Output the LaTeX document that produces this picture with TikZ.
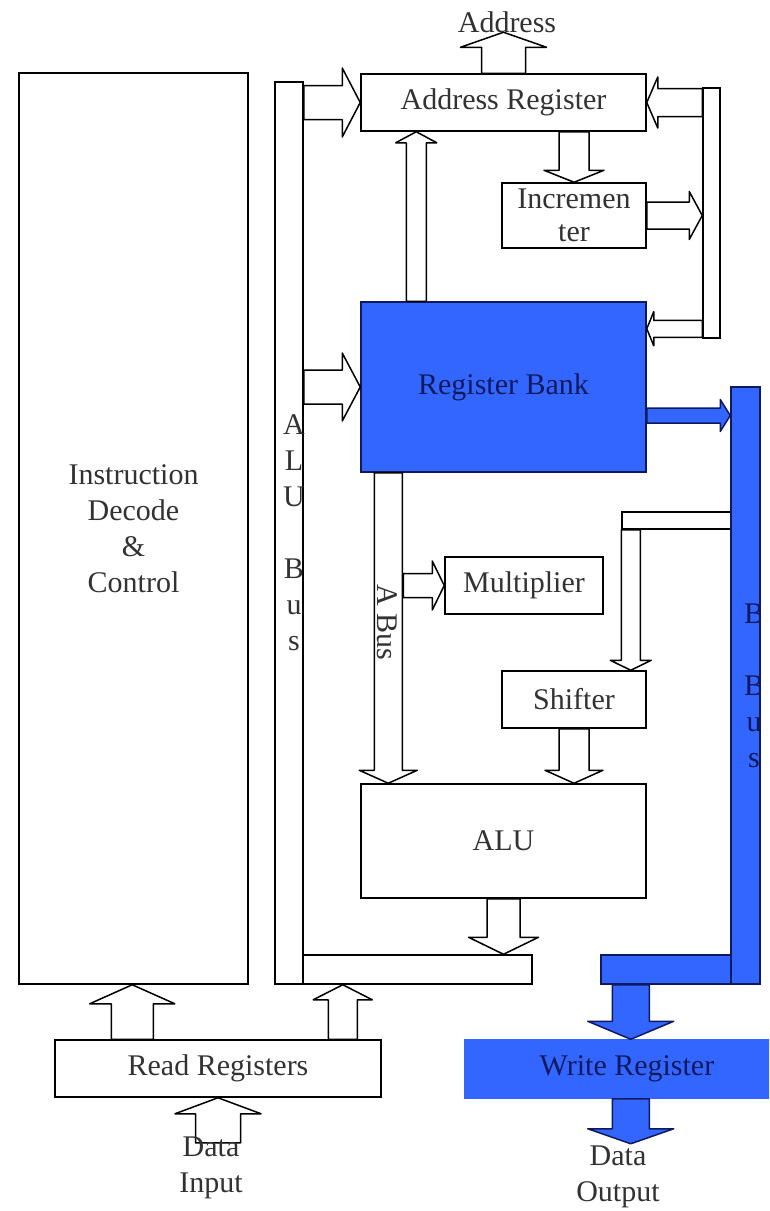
\documentclass[tikz,border=0pt]{standalone}
\usepackage{fontspec}
\setmainfont{Liberation Serif}
\usetikzlibrary{positioning,calc}
\definecolor{regblue}{RGB}{51,102,255}
\definecolor{navy}{RGB}{15,25,95}
\definecolor{txtgray}{RGB}{50,50,50}
\tikzset{
  box/.style={rectangle,draw=black,fill=white,line width=1.5pt,inner sep=0pt,
    text=txtgray,font=\fontsize{30}{36}\selectfont,align=center},
  bbox/.style={box,fill=regblue,draw=navy,text=navy},
  wrbox/.style={box,fill=regblue,draw=regblue,text=navy},
  lbl/.style={inner sep=0pt,text=txtgray,font=\fontsize{30}{36}\selectfont,align=center},
  wire/.style={draw=black,fill=white,line width=1.5pt,line join=round},   % hollow block arrow
  bwire/.style={draw=navy,fill=regblue,line width=1.5pt,line join=round}, % B-bus block arrow
}
% block arrow: [style]{from}{to}{shaft half width}{head half width}{head length}
\newcommand{\blkarrow}[6][wire]{%
  \coordinate (hb) at ($(#3)!#6pt!(#2)$);
  \draw[#1] ($(#2)!#4pt!90:(#3)$) -- ($(hb)!#4pt!90:(#3)$) -- ($(hb)!#5pt!90:(#3)$)
    -- (#3) -- ($(hb)!#5pt!-90:(#3)$) -- ($(hb)!#4pt!-90:(#3)$)
    -- ($(#2)!#4pt!-90:(#3)$) -- cycle;}

\begin{document}
\begin{tikzpicture}[x=1pt,y=-1pt]
  \useasboundingbox (0,0) rectangle (769,1211);
  \clip (0,0) rectangle (769,1211);
  \fill[white] (0,0) rectangle (769,1211);

  % blocks
  \node[box,minimum width=229,minimum height=911] (dec) at (133.5,528.5)
    {Instruction\\Decode\\\&\\Control};
  \node[box,minimum width=28,minimum height=902] (alubus) at (289,533) {};
  \node[box,minimum width=229,minimum height=29] (alubot) at (417.5,969.5) {};
  \node[box,minimum width=285,minimum height=57] (areg) at (503.5,102.5) {Address Register};
  \node[box,minimum width=144,minimum height=65] (incr) at (574,215.5) {Incremen\\[-3pt]ter};
  \node[box,minimum width=17,minimum height=250] (rbus) at (711.5,213) {};
  \node[bbox,minimum width=285,minimum height=170] (rb) at (503.5,387) {Register Bank};
  \node[box,minimum width=158,minimum height=57] (mult) at (524,585.5) {Multiplier};
  \node[box,minimum width=109,minimum height=17] (sfeed) at (676.5,520.5) {};
  \node[box,minimum width=144,minimum height=57] (shift) at (574,699.5) {Shifter};
  \node[box,minimum width=285,minimum height=114] (alu) at (503.5,841) {ALU};
  \node[bbox,minimum width=29,minimum height=597] (bbus) at (745.5,685.5) {};
  \node[bbox,minimum width=130,minimum height=29] (bbusbot) at (666,969.5) {};
  \node[box,minimum width=326,minimum height=57] (rdreg) at (218,1068.5) {Read Registers};
  \node[wrbox,minimum width=324,minimum height=58] (wrreg) at (627,1069) {Write Register};

  % free ends and offsets
  \coordinate (addrtip) at ($(areg.north)+(0,-41)$);
  \coordinate (a1) at (alubus.east |- areg.west);
  \coordinate (r1) at ($(rb.north west)+(56,0)$);
  \coordinate (r2) at (r1 |- areg.south);
  \coordinate (i1) at (incr.north |- areg.south);
  \coordinate (i2) at (incr.east -| rbus.west);
  \coordinate (f1) at (rbus.west |- areg.east);
  \coordinate (rb7) at ($(rb.north east)+(0,27.5)$);
  \coordinate (f2) at (rbus.west |- rb7);
  \coordinate (a2) at (alubus.east |- rb.west);
  \coordinate (rb9) at ($(rb.east)+(0,28.5)$);
  \coordinate (b1) at (rb9 -| bbus.west);
  \coordinate (ab1) at ($(rb.south west)+(28,0)$);
  \coordinate (ab2) at (ab1 |- alu.north);
  \coordinate (m0) at ($(ab1)+(15,0)$);
  \coordinate (m1) at (m0 |- mult.west);
  \coordinate (s1) at ($(sfeed.south west)+(9.5,0)$);
  \coordinate (s2) at (s1 |- shift.north);
  \coordinate (s3) at (shift.south |- alu.north);
  \coordinate (al1) at (alu.south |- alubot.north);
  \coordinate (w1) at ($(bbusbot.south west)+(30.5,0)$);
  \coordinate (w2) at (w1 |- wrreg.north);
  \coordinate (w3) at (w1 |- wrreg.south);
  \coordinate (douttip) at ($(w3)+(0,45)$);
  \coordinate (rd1) at ($(rdreg.north west)+(78,0)$);
  \coordinate (rd2) at (rd1 |- dec.south);
  \coordinate (rd3) at ($(rdreg.north west)+(288.5,0)$);
  \coordinate (rd4) at (rd3 |- alubot.south);
  \coordinate (dintail) at ($(rdreg.south)+(0,45)$);

  % connectors
  \blkarrow{areg.north}{addrtip}{22}{43}{15}
  \blkarrow{a1}{areg.west}{17}{34.5}{18}
  \blkarrow{r1}{r2}{10}{20.5}{11}
  \blkarrow{i1}{incr.north}{15}{30}{12}
  \blkarrow{incr.east}{i2}{13.5}{24}{13}
  \blkarrow{f1}{areg.east}{14}{25.5}{11}
  \blkarrow{f2}{rb7}{8.5}{17}{7}
  \blkarrow{a2}{rb.west}{17}{34}{18}
  \blkarrow[bwire]{rb9}{b1}{7.5}{16}{10}
  \blkarrow{ab1}{ab2}{14}{29}{13}
  \blkarrow{m1}{mult.west}{12}{24.5}{12}
  \blkarrow{s1}{s2}{9.5}{20.5}{10}
  \blkarrow{shift.south}{s3}{15}{29}{13}
  \blkarrow{alu.south}{al1}{16.5}{35}{17}
  \blkarrow[bwire]{w1}{w2}{18.5}{43}{18}
  \blkarrow[bwire]{w3}{douttip}{18.5}{43}{15}
  \blkarrow{rd1}{rd2}{21}{42.5}{19}
  \blkarrow{rd3}{rd4}{14.5}{29.5}{15}
  \blkarrow{dintail}{rdreg.south}{22.5}{43}{16}

  % labels
  \node[lbl] (addrlbl) at (507,22) {Address};
  \node[lbl] (alulbl) at (294,533) {A\\L\\U\\[36pt]B\\u\\s};
  \node[lbl,rotate=-90] (abuslbl) at (387,622) {A Bus};
  \begin{scope}
    \clip (bbus.north west) rectangle (bbus.south east);
    \node[lbl,text=navy] (bbuslbl) at (754,686) {B\\[36pt]B\\u\\s};
  \end{scope}
  \node[lbl] (dinlbl) at (211,1168) {Data\\Input};
  \node[lbl] (doutlbl) at (618,1177) {Data\\Output};
\end{tikzpicture}
\end{document}
